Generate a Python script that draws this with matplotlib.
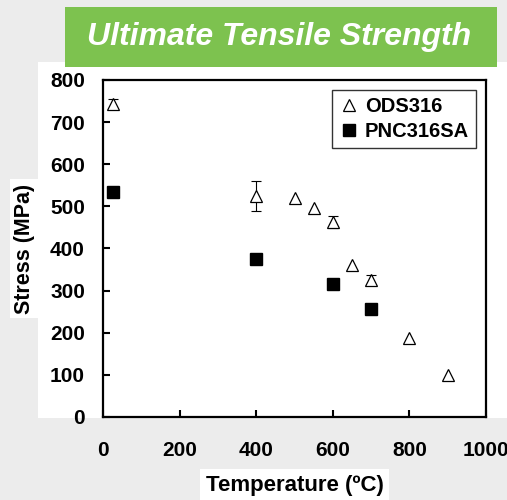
import matplotlib
matplotlib.use("Agg")
import matplotlib.pyplot as plt
from matplotlib.patches import Rectangle
import numpy as np

plt.rcParams['font.family'] = ['Liberation Sans', 'DejaVu Sans']

# ODS316 (open triangles)
ods_temp = np.array([25, 400, 500, 550, 600, 650, 700, 800, 900])
ods_uts = np.array([743, 525, 519, 497, 463, 362, 325, 188, 99])
ods_err = np.array([13, 35, 0, 0, 15, 0, 12, 0, 0])

# PNC316SA (filled squares)
pnc_temp = np.array([25, 400, 600, 700])
pnc_uts = np.array([534, 375, 316, 257])

x_ticks = [0, 200, 400, 600, 800, 1000]
y_ticks = [0, 100, 200, 300, 400, 500, 600, 700, 800]

fig = plt.figure(figsize=(5.07, 5.0), dpi=100, facecolor='#ececec')
# white chart area
fig.add_artist(Rectangle((38/507, 1-418/500), 469/507, 356/500,
                         transform=fig.transFigure, facecolor='white',
                         edgecolor='none', zorder=-10))
# green title banner
fig.add_artist(Rectangle((65/507, 1-67/500), 432/507, 60/500,
                         transform=fig.transFigure, facecolor='#7dc24f',
                         edgecolor='none', zorder=-10))
fig.text(279/507, 1-37/500, 'Ultimate Tensile Strength', color='white',
         fontsize=23, fontweight='bold', fontstyle='italic',
         ha='center', va='center')

ax = fig.add_axes([103/507, 1-417/500, 383/507, 337/500])
ax.errorbar(ods_temp, ods_uts, yerr=np.where(ods_err > 0, ods_err, np.nan),
            fmt='none', ecolor='black', elinewidth=0.8, capsize=3.5, capthick=0.8)
ax.plot(ods_temp, ods_uts, '^', markersize=9, markerfacecolor='white',
        markeredgecolor='black', markeredgewidth=0.9, label='ODS316', linestyle='none')
ax.plot(pnc_temp, pnc_uts, 's', markersize=8, color='black',
        label='PNC316SA', linestyle='none')

ax.set_xlim(0, 1000)
ax.set_ylim(0, 800)
ax.set_xticks(x_ticks)
ax.set_yticks(y_ticks)
ax.tick_params(direction='in', length=5, width=1.5)
ax.tick_params(axis='y', pad=13, labelsize=15)
ax.tick_params(axis='x', pad=17, labelsize=15)
for lab in ax.get_xticklabels() + ax.get_yticklabels():
    lab.set_fontweight('bold')
for s in ax.spines.values():
    s.set_linewidth(1.6)

ax.set_xlabel('Temperature (ºC)', fontsize=16, fontweight='bold', labelpad=11,
              bbox=dict(facecolor='white', edgecolor='none', pad=4))
ax.set_ylabel('Stress (MPa)', fontsize=15.5, fontweight='bold', labelpad=11,
              bbox=dict(facecolor='white', edgecolor='none', pad=3))

leg = ax.legend(loc='upper right', prop={'weight': 'bold', 'size': 14.5},
                frameon=True, fancybox=False, edgecolor='black',
                handletextpad=0.3, handlelength=1.0, borderpad=0.35,
                labelspacing=0.3, bbox_to_anchor=(1.0, 1.0))
leg.get_frame().set_linewidth(1.0)

fig.savefig('out.png', dpi=100, facecolor=fig.get_facecolor())
